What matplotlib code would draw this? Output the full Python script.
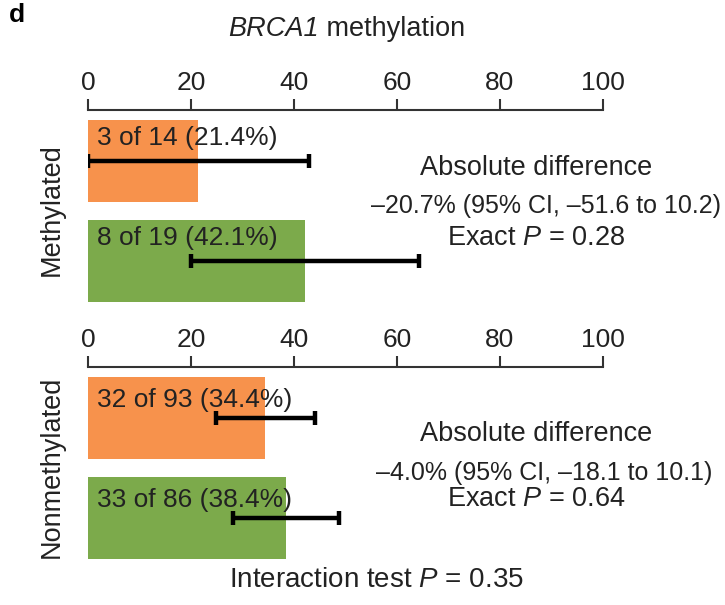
"""
BRCA1 methylation: response rates by arm, split by methylation status.
"""

import numpy as np
import matplotlib
matplotlib.use("Agg")
import matplotlib.pyplot as plt

plt.rcParams['font.family'] = ['Liberation Sans', 'DejaVu Sans']
plt.rcParams['mathtext.fontset'] = 'custom'
plt.rcParams['mathtext.it'] = 'Liberation Sans:italic'
plt.rcParams['mathtext.rm'] = 'Liberation Sans'

# responders / patients per arm (orange arm first, green arm second)
groups = ["Methylated", "Nonmethylated"]
responders = [[3, 8], [32, 33]]
totals = [[14, 19], [93, 86]]
rates = [[21.4, 42.1], [34.4, 38.4]]
ci_low = [[0.0, 20.0], [24.8, 28.1]]
ci_high = [[42.9, 64.3], [44.1, 48.7]]
differences = ["\u201320.7% (95% CI, \u201351.6 to 10.2)",
               "\u20134.0% (95% CI, \u201318.1 to 10.1)"]
p_values = ["0.28", "0.64"]
interaction_p = "0.35"
ticks = [0, 20, 40, 60, 80, 100]

arm_colors = ['#F7924C', '#7CAA4B']
TXT = '#222222'
FS = 19.5

fig = plt.figure(figsize=(7.25, 6.05), dpi=100)

# axes placement (figure fractions)
panels = [[0.1214, 0.488, 0.710, 0.330],
          [0.1214, 0.063, 0.710, 0.330]]
label_offset = [-0.23, -0.18]
note_y = [[0.722, 0.660, 0.607], [0.282, 0.219, 0.175]]
diff_x = [0.753, 0.750]

for i, grp in enumerate(groups):
    ax = fig.add_axes(panels[i])
    ypos = np.arange(2)
    ax.barh(ypos, rates[i], height=0.82, color=arm_colors, zorder=1)
    for j in range(2):
        ax.plot([ci_low[i][j], ci_high[i][j]], [ypos[j], ypos[j]],
                color='black', lw=3.2, zorder=3, solid_capstyle='butt')
        for xe in (ci_low[i][j], ci_high[i][j]):
            ax.plot([xe, xe], [ypos[j] - 0.07, ypos[j] + 0.07],
                    color='black', lw=3.2, zorder=3, solid_capstyle='butt')
        ax.text(1.8, ypos[j] + label_offset[i],
                f"{responders[i][j]} of {totals[i][j]} ({rates[i][j]:.1f}%)",
                fontsize=19, color=TXT, va='center', ha='left', zorder=4)

    ax.set_xlim(0, 100)
    ax.set_ylim(1.49, -0.51)
    ax.xaxis.tick_top()
    ax.set_xticks(ticks)
    ax.set_xticklabels([str(t) for t in ticks], fontsize=19, color=TXT)
    ax.tick_params(axis='x', length=8, width=1.5, pad=3, color='#333333')
    ax.set_yticks([])
    for side in ['left', 'right', 'bottom']:
        ax.spines[side].set_visible(False)
    ax.spines['top'].set_linewidth(1.5)
    ax.spines['top'].set_color('#333333')
    ax.set_ylabel(grp, fontsize=FS, color=TXT, labelpad=17)

    fig.text(0.739, note_y[i][0], "Absolute difference", fontsize=FS,
             ha='center', va='center', color=TXT)
    fig.text(diff_x[i], note_y[i][1], differences[i], fontsize=18,
             ha='center', va='center', color=TXT)
    fig.text(0.739, note_y[i][2], r"Exact $P$ = " + p_values[i], fontsize=FS,
             ha='center', va='center', color=TXT)

# title: italic gene name followed by upright text
gene = fig.text(0.3145, 0.952, "BRCA1", fontsize=FS, style='italic',
                ha='left', va='center', color=TXT)
plt.annotate(" methylation", xy=(1.0, 0.5), xycoords=gene, fontsize=FS,
             ha='left', va='center', color=TXT, annotation_clip=False)

fig.text(0.519, 0.041, r"Interaction test $P$ = " + interaction_p, fontsize=20,
         ha='center', va='center', color=TXT)
fig.text(0.012, 0.975, "d", fontsize=19, fontweight='bold',
         ha='left', va='center')

fig.savefig("out.png", dpi=100)
